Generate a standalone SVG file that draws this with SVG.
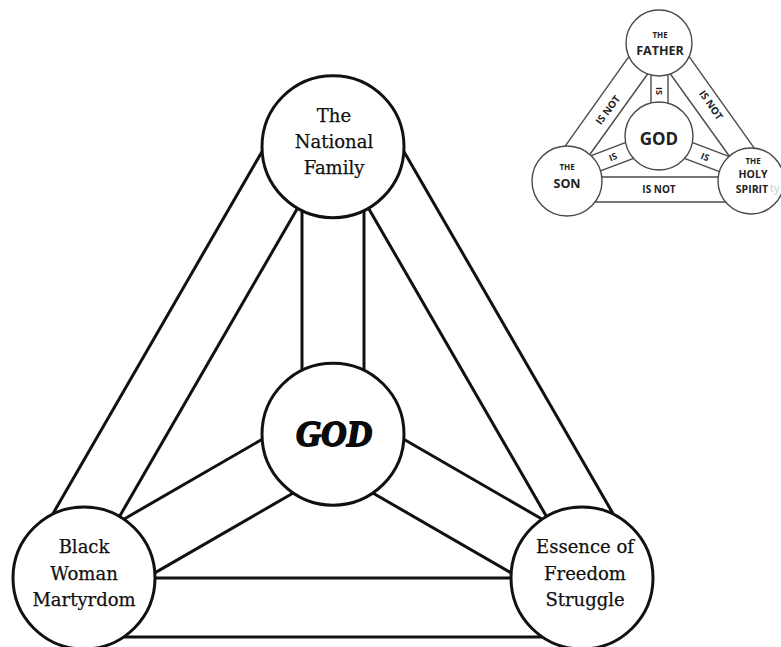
<svg xmlns="http://www.w3.org/2000/svg" width="781" height="647" viewBox="0 0 781 647">
<style>
.ln{stroke:#111;stroke-width:3;fill:none;stroke-linecap:butt}
.nd{fill:#fff;stroke:#111;stroke-width:3}
.lb{font-family:"DejaVu Serif","Liberation Serif",serif;font-size:18px;fill:#111;stroke:#111;stroke-width:0.25;text-anchor:middle}
.god{font-family:"Liberation Serif",serif;font-weight:bold;font-style:italic;font-size:35px;fill:#0a0a0a;stroke:#0a0a0a;stroke-width:1.8;text-anchor:middle}
.iln{stroke:#4a4a4a;stroke-width:1.4;fill:none}
.ind{fill:#fff;stroke:#4a4a4a;stroke-width:1.4}
.it{font-family:"Open Sans","DejaVu Sans",sans-serif;font-weight:bold;fill:#222;text-anchor:middle}
</style>
<rect width="781" height="647" fill="#fff"/>
<g id="connectors">
<line class="ln" x1="297.5" y1="208.2" x2="119.5" y2="516.5"/>
<line class="ln" x1="262.1" y1="151.4" x2="52.6" y2="514.3"/>
<line class="ln" x1="368.5" y1="208.2" x2="546.5" y2="516.5"/>
<line class="ln" x1="403.9" y1="151.4" x2="613.4" y2="514.3"/>
<line class="ln" x1="155" y1="578" x2="511" y2="578"/>
<line class="ln" x1="123.5" y1="637" x2="542.5" y2="637"/>
<line class="ln" x1="302" y1="210.6" x2="302" y2="370.3"/>
<line class="ln" x1="364" y1="210.6" x2="364" y2="370.3"/>
<line class="ln" x1="262.2" y1="439.3" x2="123.8" y2="519.2"/>
<line class="ln" x1="293.2" y1="493" x2="154.8" y2="572.9"/>
<line class="ln" x1="403.8" y1="439.3" x2="542.2" y2="519.2"/>
<line class="ln" x1="372.8" y1="493" x2="511.2" y2="572.9"/>
</g>
<g id="node-national-family">
<circle class="nd" cx="333" cy="146.7" r="71"/>
<text class="lb" x="334" y="122">The</text>
<text class="lb" x="334" y="148">National</text>
<text class="lb" x="334" y="174">Family</text>
</g>
<g id="node-god">
<circle class="nd" cx="333" cy="434.2" r="71"/>
<text class="god" x="334" y="446">GOD</text>
</g>
<g id="node-black-woman-martyrdom">
<circle class="nd" cx="84" cy="578" r="71"/>
<text class="lb" x="84" y="553">Black</text>
<text class="lb" x="84" y="580">Woman</text>
<text class="lb" x="84" y="606">Martyrdom</text>
</g>
<g id="node-essence-of-freedom-struggle">
<circle class="nd" cx="582" cy="578" r="71"/>
<text class="lb" x="585" y="553">Essence of</text>
<text class="lb" x="585" y="580">Freedom</text>
<text class="lb" x="585" y="606">Struggle</text>
</g>
<g id="inset">
<g id="inset-connectors">
<line class="iln" x1="559.3" y1="154.4" x2="632.4" y2="51.7"/>
<line class="iln" x1="583" y1="164" x2="653" y2="66.5"/>
<line class="iln" x1="758.7" y1="154.4" x2="685.6" y2="51.7"/>
<line class="iln" x1="735" y1="164" x2="665" y2="66.5"/>
<line class="iln" x1="651" y1="70" x2="651" y2="110"/>
<line class="iln" x1="668" y1="70" x2="668" y2="110"/>
<line class="iln" x1="579.4" y1="160.2" x2="637.2" y2="138.1"/>
<line class="iln" x1="587.2" y1="175.8" x2="641.6" y2="155.4"/>
<line class="iln" x1="738.6" y1="160.2" x2="680.8" y2="138.1"/>
<line class="iln" x1="730.8" y1="175.8" x2="676.4" y2="155.4"/>
<line class="iln" x1="575" y1="177" x2="745" y2="177"/>
<line class="iln" x1="580" y1="202" x2="740" y2="202"/>
<text class="it" font-size="10" transform="translate(608,110) rotate(-53)" dy="3.5">IS NOT</text>
<text class="it" font-size="10" transform="translate(711,105) rotate(55)" dy="3.5">IS NOT</text>
<text class="it" font-size="10" x="659" y="193">IS NOT</text>
<text class="it" font-size="9" transform="translate(659.5,91) rotate(90)" dy="3.2">IS</text>
<text class="it" font-size="9" transform="translate(613,157) rotate(-22)" dy="3.2">IS</text>
<text class="it" font-size="9" transform="translate(705,157) rotate(22)" dy="3.2">IS</text>
</g>
<g id="inset-father">
<circle class="ind" cx="659" cy="43" r="33"/>
<text class="it" font-size="8" x="660" y="37.5">THE</text>
<text class="it" font-size="12.5" x="660" y="55">FATHER</text>
</g>
<g id="inset-god">
<circle class="ind" cx="659" cy="136" r="34"/>
<text class="it" font-size="17" x="659" y="145">GOD</text>
</g>
<g id="inset-son">
<circle class="ind" cx="567" cy="181" r="35"/>
<text class="it" font-size="8" x="567" y="170">THE</text>
<text class="it" font-size="12.5" x="567" y="188">SON</text>
</g>
<g id="inset-holy-spirit">
<circle class="ind" cx="751" cy="181" r="33"/>
<text class="it" font-size="8" x="753" y="164">THE</text>
<text class="it" font-size="10.5" x="753" y="178">HOLY</text>
<text class="it" font-size="10.5" x="752" y="193">SPIRIT</text>
</g>
<text font-family="'Open Sans',sans-serif" font-size="11" fill="#ccc" x="770" y="192">ty</text>
</g>
</svg>
